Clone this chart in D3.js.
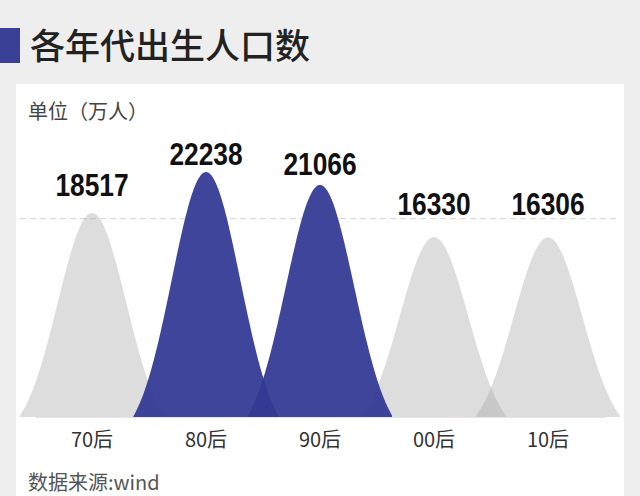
<!DOCTYPE html>
<html><head><meta charset="utf-8">
<script src="https://cdn.jsdelivr.net/npm/d3@7"></script>
<style>html,body{margin:0;padding:0;background:#eeeeee;}svg{display:block;}</style>
</head><body>
<script>
const categories = ["70后","80后","90后","00后","10后"];
const values = [18517, 22238, 21066, 16330, 16306];
const highlight = [false, true, true, false, false];
const gridValues = [18000];
const title = "各年代出生人口数";
const unitLabel = "单位（万人）";
const sourceLabel = "数据来源:wind";

const W = 640, H = 496;
const svg = d3.select("body").append("svg").attr("width", W).attr("height", H);

// background
svg.append("rect").attr("width", W).attr("height", H).attr("fill", "#eeeeee");
svg.append("rect").attr("x", 16).attr("y", 84).attr("width", 608).attr("height", H - 84).attr("fill", "#ffffff");
svg.append("rect").attr("x", 0).attr("y", 28).attr("width", 20).attr("height", 35).attr("fill", "#3a4096");
svg.append("text").attr("x", 30).attr("y", 59).text(title)
  .attr("font-family", "Noto Sans CJK SC").attr("font-weight", 500).attr("font-size", 35).attr("fill", "#222");
svg.append("text").attr("x", 28).attr("y", 119).text(unitLabel)
  .attr("font-family", "Noto Sans CJK SC").attr("font-size", 20).attr("fill", "#444");
svg.append("text").attr("x", 28).attr("y", 490).text(sourceLabel)
  .attr("font-family", "Noto Sans CJK SC").attr("font-size", 20).attr("fill", "#555");

const x = d3.scaleBand().domain(categories).range([35, 605]).padding(0);
const baseY = 417;
const y = d3.scaleLinear().domain([0, 22238]).range([baseY, 172]);

// gridline
svg.selectAll(".grid").data(gridValues).enter().append("line")
  .attr("x1", 20).attr("x2", 620).attr("y1", d => y(d)).attr("y2", d => y(d))
  .attr("stroke", "#d0d0d0").attr("stroke-dasharray", "6,4").attr("stroke-width", 1);

const step = x.step();
const sigma = step * 0.3;
const ext = step * 0.64;
const gEnd = Math.exp(-(ext * ext) / (2 * sigma * sigma));
const area = d3.area().curve(d3.curveBasis)
  .x(p => p[0]).y0(baseY).y1(p => p[1]);

const data = categories.map((c, i) => ({c, v: values[i], h: highlight[i]}));
const draw = data.slice().sort((a, b) => a.h - b.h);

draw.forEach(d => {
  const cx = x(d.c) + x.bandwidth() / 2;
  const pts = [];
  for (let t = -ext; t <= ext + 0.01; t += 1) {
    const g = (Math.exp(-(t * t) / (2 * sigma * sigma)) - gEnd) / (1 - gEnd);
    pts.push([cx + t, y(d.v * Math.max(0, g))]);
  }
  svg.append("path").attr("d", area(pts))
    .attr("fill", d.h ? "#333994" : "#ababab")
    .attr("fill-opacity", d.h ? 0.94 : 0.4);
});

// value labels
data.forEach(d => {
  const cx = x(d.c) + x.bandwidth() / 2;
  const py = y(d.v);
  svg.append("text")
    .attr("transform", `translate(${cx},${33 + 0.766 * py}) scale(0.85,1)`)
    .attr("text-anchor", "middle")
    .attr("font-family", "Liberation Sans").attr("font-weight", "bold")
    .attr("font-size", 31).attr("fill", "#111").text(d.v);
});

// axis labels
const axis = d3.axisBottom(x).tickSize(0).tickPadding(16);
const ax = svg.append("g").attr("transform", `translate(0,${baseY})`).call(axis);
ax.select(".domain").attr("stroke", "#e4e4e4");
ax.selectAll("text").attr("font-family", "Noto Sans CJK SC").attr("font-size", 20).attr("fill", "#333");
</script>
</body></html>
